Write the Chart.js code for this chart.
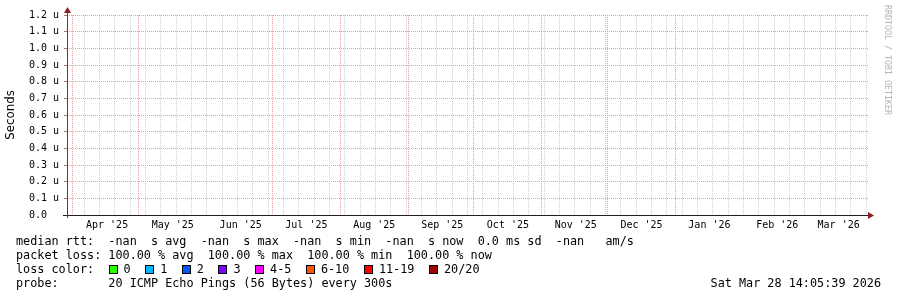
<!DOCTYPE html>
<html>
<head>
<meta charset="utf-8">
<script src="https://cdn.jsdelivr.net/npm/chart.js@4.4.1/dist/chart.umd.min.js"></script>
<style>
  html, body { margin: 0; padding: 0; background: #fff; }
  canvas { display: block; }
</style>
</head>
<body>
<canvas id="smoke" width="897" height="297"></canvas>
<script>
// x values are days counted from 1 Apr 2025 00:00
const xStart = -2.7;
const xEnd = 363;
const monthLabels = ["Apr '25", "May '25", "Jun '25", "Jul '25", "Aug '25", "Sep '25",
                     "Oct '25", "Nov '25", "Dec '25", "Jan '26", "Feb '26", "Mar '26"];
const monthStartDays = [0, 30, 61, 91, 122, 153, 183, 214, 244, 275, 306, 334];
const labelDays = [15.6, 45.6, 76.6, 106.6, 137.6, 168.6, 198.6, 229.6, 259.6, 290.6, 321.6, 349.6];
const firstWeekDay = 5.2;

const yTicks = [0, 0.1, 0.2, 0.3, 0.4, 0.5, 0.6, 0.7, 0.8, 0.9, 1.0, 1.1, 1.2];
const yTickLabels = ['0.0  ', '0.1 u', '0.2 u', '0.3 u', '0.4 u', '0.5 u', '0.6 u',
                     '0.7 u', '0.8 u', '0.9 u', '1.0 u', '1.1 u', '1.2 u'];

// every sample is NaN (100 % loss), so nothing is plotted
const medianRtt = [];

const medianStats = ['-nan', '-nan', '-nan', '-nan'];
const medianNames = ['avg', 'max', 'min', 'now'];
const rttSd = '0.0';
const rttAmS = '-nan';
const lossStats = ['100.00', '100.00', '100.00', '100.00'];
const lossNames = ['avg', 'max', 'min', 'now'];
const lossLabels = ['0', '1', '2', '3', '4-5', '6-10', '11-19', '20/20'];
const lossColors = ['#26ff00', '#00b8ff', '#0059ff', '#7e00ff', '#ff00ff', '#ff5500', '#ff0000', '#a10000'];
const probeText = '20 ICMP Echo Pings (56 Bytes) every 300s';
const stampText = 'Sat Mar 28 14:05:39 2026';

// x ticks: weekly minor lines, monthly major lines, mid-month labels
const xTicks = [];
for (let d = firstWeekDay; d < xEnd; d += 7) xTicks.push({ value: d, kind: 'week', label: '' });
monthStartDays.forEach(d => xTicks.push({ value: d, kind: 'month', label: '' }));
labelDays.forEach((d, i) => xTicks.push({ value: d, kind: 'label', label: monthLabels[i] }));
xTicks.sort((a, b) => a.value - b.value);

const MONO = '"DejaVu Sans Mono", monospace';
const minorColor = '#cbcbcb';
const majorColor = '#f29a9a';

const rrdDecor = {
    id: 'rrdDecor',
    afterDraw(chart) {
        const { ctx, chartArea: a } = chart;
        const L = Math.round(a.left) + 0.5;
        const B = Math.round(a.bottom) + 0.5;
        ctx.save();

        // axes
        ctx.lineWidth = 1;
        ctx.strokeStyle = '#1f1f1f';
        ctx.beginPath();
        ctx.moveTo(a.left - 4, B);
        ctx.lineTo(a.right + 1, B);
        ctx.stroke();
        ctx.strokeStyle = '#444';
        ctx.beginPath();
        ctx.moveTo(L, a.bottom + 3);
        ctx.lineTo(L, a.top - 4);
        ctx.stroke();

        // arrows
        ctx.fillStyle = '#8a1f1f';
        ctx.beginPath();
        ctx.moveTo(a.right, B - 3.5);
        ctx.lineTo(a.right, B + 3.5);
        ctx.lineTo(a.right + 6, B);
        ctx.closePath();
        ctx.fill();
        ctx.beginPath();
        ctx.moveTo(L - 3.5, a.top - 2);
        ctx.lineTo(L + 3.5, a.top - 2);
        ctx.lineTo(L, a.top - 8);
        ctx.closePath();
        ctx.fill();

        // watermark
        ctx.save();
        ctx.translate(887, 5);
        ctx.rotate(Math.PI / 2);
        ctx.font = '8.3px ' + MONO;
        ctx.fillStyle = '#b4b4b4';
        ctx.textBaseline = 'middle';
        ctx.textAlign = 'left';
        ctx.fillText('RRDTOOL / TOBI OETIKER', 0, 0);
        ctx.restore();

        // legend
        const cw = 7.12;
        const x0 = 16;
        ctx.font = '11.8px ' + MONO;
        ctx.fillStyle = '#000';
        ctx.textBaseline = 'alphabetic';
        ctx.textAlign = 'left';

        let l1 = 'median rtt:  ';
        medianStats.forEach((v, i) => { l1 += v + '  s ' + medianNames[i] + '  '; });
        l1 += rttSd + ' ms sd  ' + rttAmS + '   am/s';
        ctx.fillText(l1, x0, 245);

        const l2 = 'packet loss: ' + lossStats.map((v, i) => v + ' % ' + lossNames[i]).join('  ');
        ctx.fillText(l2, x0, 259);

        ctx.fillText('loss color:', x0, 273);
        let bx = x0 + 13 * cw;
        lossLabels.forEach((lab, i) => {
            ctx.fillStyle = lossColors[i];
            ctx.fillRect(Math.round(bx), 265, 8, 8);
            ctx.strokeStyle = '#000';
            ctx.strokeRect(Math.round(bx) + 0.5, 265.5, 8, 8);
            ctx.fillStyle = '#000';
            ctx.fillText(lab, bx + 15, 273);
            bx += 15 + lab.length * cw + 14.5;
        });

        ctx.fillText('probe:       ' + probeText, x0, 287);
        ctx.textAlign = 'right';
        ctx.fillText(stampText, 881, 287);

        ctx.restore();
    }
};

new Chart(document.getElementById('smoke').getContext('2d'), {
    type: 'line',
    data: {
        datasets: [{
            label: 'median rtt',
            data: medianRtt,
            borderColor: '#202020',
            pointRadius: 0,
            spanGaps: false
        }]
    },
    options: {
        responsive: false,
        animation: false,
        layout: { padding: { left: 0, right: 29, top: 15, bottom: 0 } },
        plugins: {
            legend: { display: false },
            tooltip: { enabled: false }
        },
        scales: {
            x: {
                type: 'linear',
                min: xStart,
                max: xEnd,
                afterBuildTicks: axis => { axis.ticks = xTicks.map(t => ({ value: t.value })); },
                afterFit: axis => { axis.height = 82; },
                ticks: {
                    autoSkip: false,
                    maxRotation: 0,
                    minRotation: 0,
                    padding: 1,
                    color: '#000',
                    font: { family: MONO, size: 10 },
                    callback: (v, i) => xTicks[i].label
                },
                grid: {
                    color: c => {
                        const t = xTicks[c.index];
                        if (!t || t.kind === 'label') return 'rgba(0,0,0,0)';
                        return t.kind === 'month' ? majorColor : minorColor;
                    },
                    lineWidth: 1,
                    tickLength: 3,
                    tickColor: 'rgba(0,0,0,0)'
                },
                border: { display: false, dash: [1, 1] }
            },
            y: {
                min: 0,
                max: 1.2,
                afterBuildTicks: axis => { axis.ticks = yTicks.map(v => ({ value: v })); },
                afterFit: axis => { axis.width = 67; },
                ticks: {
                    padding: 5,
                    color: '#000',
                    font: { family: MONO, size: 10 },
                    callback: (v, i) => yTickLabels[i]
                },
                grid: {
                    color: majorColor,
                    lineWidth: 1,
                    tickLength: 3,
                    tickColor: '#b07070'
                },
                border: { display: false, dash: [1, 1] },
                title: {
                    display: true,
                    text: 'Seconds',
                    color: '#000',
                    font: { family: '"DejaVu Sans", sans-serif', size: 11.8 },
                    padding: { top: 4, bottom: 0 }
                }
            }
        }
    },
    plugins: [rrdDecor]
});
</script>
</body>
</html>
